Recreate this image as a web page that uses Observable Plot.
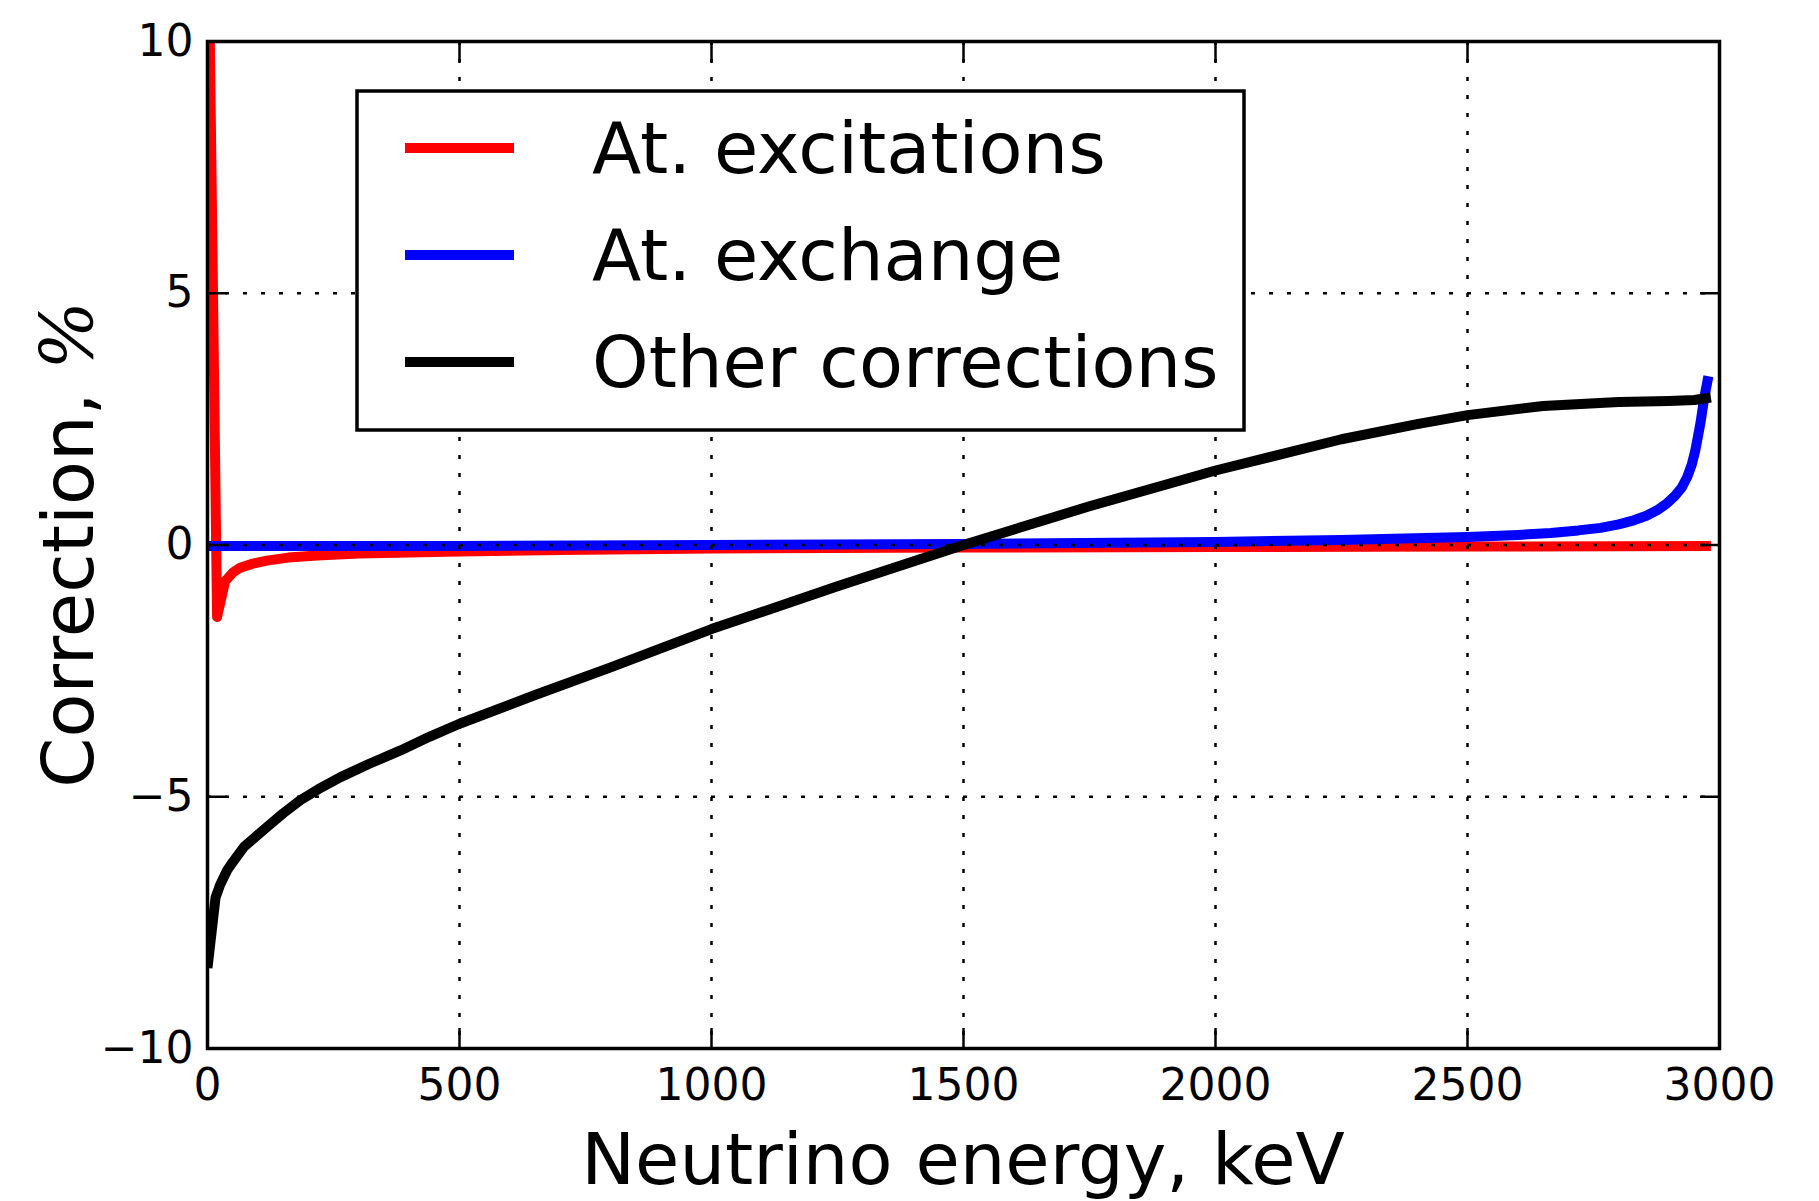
<!DOCTYPE html>
<html>
<head>
<meta charset="utf-8">
<script src="https://cdn.jsdelivr.net/npm/d3@7"></script>
<script src="https://cdn.jsdelivr.net/npm/@observablehq/plot@0.6"></script>
<style>
  html, body { margin: 0; padding: 0; background: #fff; }
  #chart svg { display: block; }
</style>
</head>
<body>
<div id="chart"></div>
<script>
// ---- data ----
const seriesNames = ["At. excitations", "At. exchange", "Other corrections"];
const seriesColors = ["#ff0000", "#0000ff", "#000000"];

const excEnergy = [0, 19, 35, 50, 65, 90, 118, 160, 218, 300, 400, 500, 700, 1000, 1500, 2000, 2500, 2983];
const excValue  = [13.7, -1.43, -0.72, -0.55, -0.45, -0.37, -0.31, -0.25, -0.21, -0.17, -0.15, -0.13, -0.10, -0.07, -0.05, -0.04, -0.03, -0.02];

const exchEnergy = [0, 500, 1000, 1500, 2000, 2250, 2500, 2600, 2665, 2720, 2764, 2800, 2830, 2855, 2876, 2895, 2912, 2925, 2936, 2945, 2952, 2962, 2970, 2978];
const exchValue  = [-0.02, -0.02, 0.0, 0.02, 0.06, 0.10, 0.16, 0.20, 0.24, 0.29, 0.34, 0.41, 0.49, 0.58, 0.69, 0.82, 0.98, 1.14, 1.35, 1.60, 1.88, 2.41, 2.94, 3.35];

const otherEnergy = [0, 16, 25, 39, 50, 72, 95, 118, 150, 184, 220, 264, 320, 383, 440, 500, 650, 800, 1000, 1250, 1500, 1750, 2000, 2250, 2400, 2500, 2650, 2800, 2900, 2950, 2983];
const otherValue  = [-8.4, -7.0, -6.75, -6.46, -6.3, -6.0, -5.8, -5.6, -5.33, -5.07, -4.85, -4.61, -4.35, -4.08, -3.81, -3.55, -2.98, -2.43, -1.67, -0.82, 0.0, 0.77, 1.48, 2.10, 2.40, 2.58, 2.76, 2.84, 2.86, 2.88, 2.93];

const xTicks = [0, 500, 1000, 1500, 2000, 2500, 3000];
const yTicks = [-10, -5, 0, 5, 10];
const xGrid = [500, 1000, 1500, 2000, 2500];
const yGrid = [-5, 0, 5];

const xLabel = "Neutrino energy, keV";
const yLabelText = "Correction, ";
const yLabelUnit = "%";

// ---- tables built from the arrays ----
const toRows = (xs, ys) => xs.map((x, i) => ({x, y: ys[i]}));
const excRows = toRows(excEnergy, excValue);
const exchRows = toRows(exchEnergy, exchValue);
const otherRows = toRows(otherEnergy, otherValue);

const fmt = d => (d < 0 ? "\u2212" + Math.abs(d) : String(d));
const blank = () => "";
const LW = 10;

const chart = Plot.plot({
  width: 1819,
  height: 1201,
  marginLeft: 207,
  marginRight: 100,
  marginTop: 41,
  marginBottom: 153,
  style: {fontFamily: "DejaVu Sans", fontSize: "44px", background: "#fff", color: "#000"},
  x: {domain: [0, 3000]},
  y: {domain: [-10, 10]},
  marks: [
    Plot.line(excRows, {x: "x", y: "y", stroke: seriesColors[0], strokeWidth: LW, clip: true, strokeLinejoin: "round", strokeLinecap: "butt"}),
    Plot.line(exchRows, {x: "x", y: "y", stroke: seriesColors[1], strokeWidth: LW, clip: true, strokeLinejoin: "round", strokeLinecap: "butt"}),
    Plot.line(otherRows, {x: "x", y: "y", stroke: seriesColors[2], strokeWidth: LW, clip: true, strokeLinejoin: "round", strokeLinecap: "butt"}),
    Plot.gridX(xGrid, {stroke: "#000", strokeOpacity: 1, strokeWidth: 2.5, strokeDasharray: "4,14"}),
    Plot.gridY(yGrid, {stroke: "#000", strokeOpacity: 1, strokeWidth: 2.5, strokeDasharray: "4,14"}),
    // labels
    Plot.axisX(xTicks, {anchor: "bottom", tickSize: 0, tickPadding: 20, tickFormat: fmt, label: null}),
    Plot.axisY(yTicks, {anchor: "left", tickSize: 0, tickPadding: 14, tickFormat: fmt, label: null}),
    // inward ticks on all four sides
    Plot.axisX(xTicks, {anchor: "bottom", tickSize: -20, strokeWidth: 2.5, tickFormat: blank, label: null}),
    Plot.axisX(xTicks, {anchor: "top", tickSize: -20, strokeWidth: 2.5, tickFormat: blank, label: null}),
    Plot.axisY(yTicks, {anchor: "left", tickSize: -20, strokeWidth: 2.5, tickFormat: blank, label: null}),
    Plot.axisY(yTicks, {anchor: "right", tickSize: -20, strokeWidth: 2.5, tickFormat: blank, label: null}),
    Plot.frame({stroke: "#000", strokeWidth: 3.5})
  ]
});

document.getElementById("chart").appendChild(chart);

const svg = d3.select(chart.tagName.toLowerCase() === "svg" ? chart : chart.querySelector("svg"));

// x axis label
svg.append("text")
  .attr("x", 963).attr("y", 1184)
  .attr("text-anchor", "middle")
  .style("font-family", "DejaVu Sans").style("font-size", "72px").attr("fill", "#000")
  .text(xLabel);

// y axis label
const yl = svg.append("text")
  .attr("transform", "translate(93,544.5) rotate(-90)")
  .attr("text-anchor", "middle")
  .style("font-family", "DejaVu Sans").style("font-size", "72px").attr("fill", "#000");
yl.append("tspan").text(yLabelText);
yl.append("tspan").style("font-family", "DejaVu Serif").style("font-style", "italic").text(yLabelUnit);

// legend
const lg = svg.append("g").attr("text-anchor", "start");
lg.append("rect").attr("x", 357).attr("y", 91).attr("width", 887).attr("height", 339)
  .attr("fill", "#fff").attr("stroke", "#000").attr("stroke-width", 3.5);
const baselines = [173, 280, 387];
seriesNames.forEach((name, i) => {
  const by = baselines[i];
  lg.append("line").attr("x1", 405).attr("x2", 514).attr("y1", by - 25).attr("y2", by - 25)
    .attr("stroke", seriesColors[i]).attr("stroke-width", LW);
  lg.append("text").attr("x", 592).attr("y", by)
    .attr("text-anchor", "start")
    .style("font-family", "DejaVu Sans").style("font-size", "72px").attr("fill", "#000")
    .text(name);
});
</script>
</body>
</html>
